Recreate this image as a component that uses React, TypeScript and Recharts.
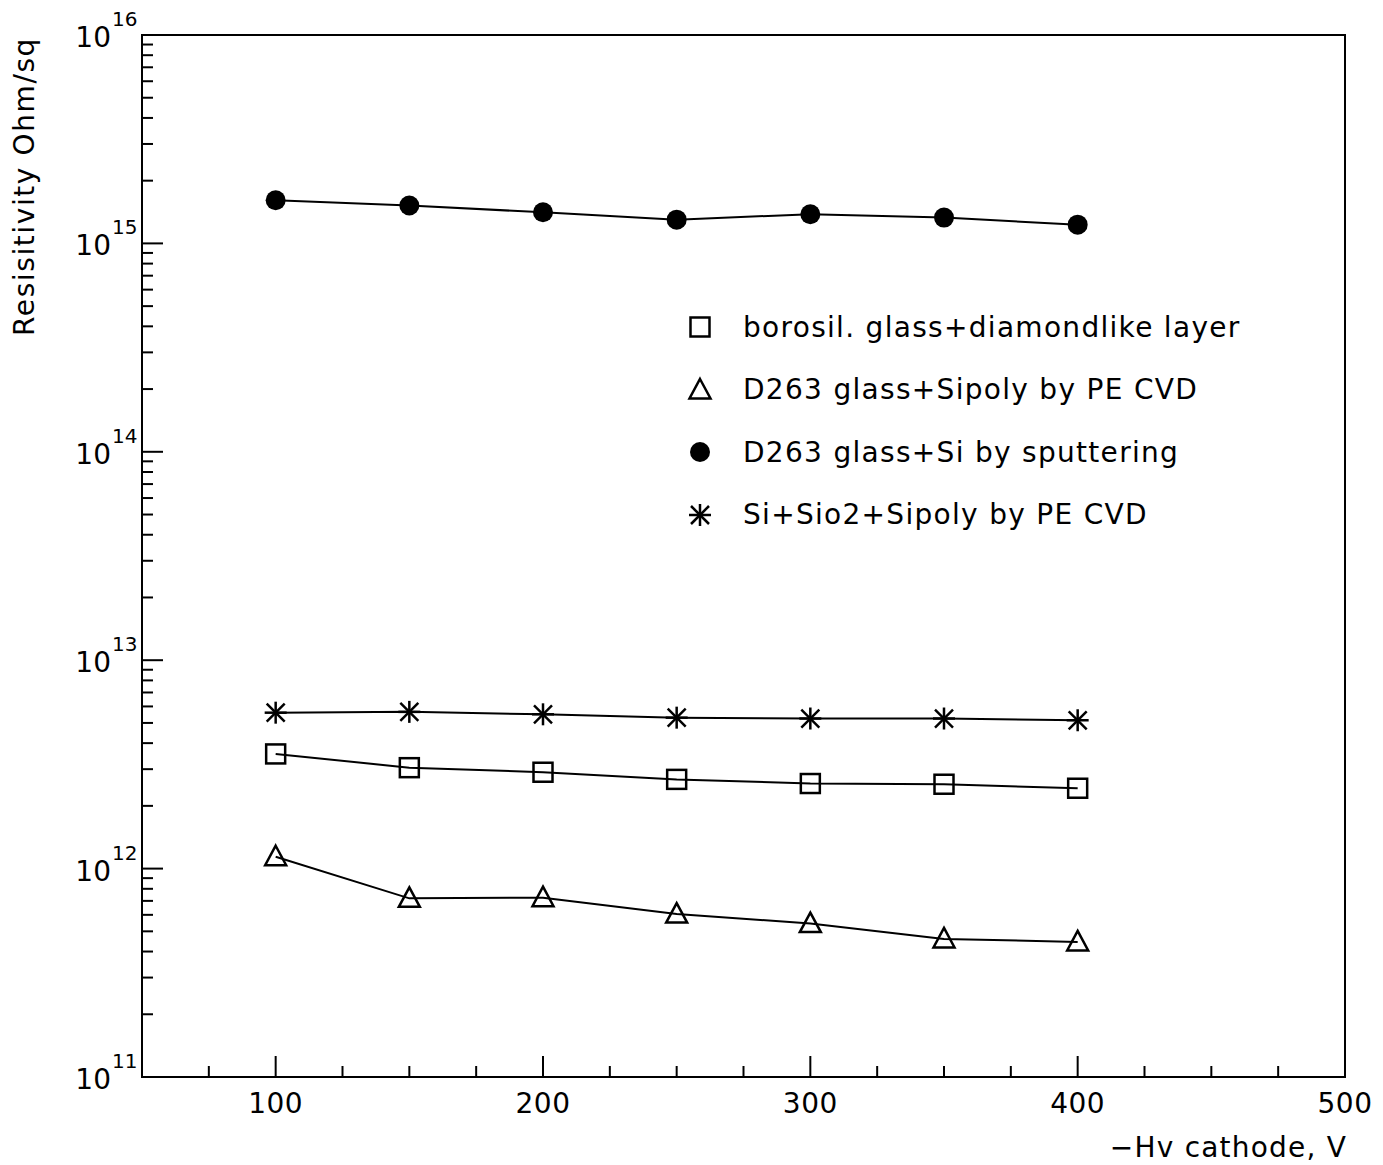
import { ScatterChart, Scatter, XAxis, YAxis, Legend, Label, ReferenceArea } from 'recharts';

const FONT = '"DejaVu Sans", sans-serif';

// -Hv cathode, V
const voltages = [100, 150, 200, 250, 300, 350, 400];

// resistivity, Ohm/sq
const borosilDiamond = [3.55e12, 3.05e12, 2.9e12, 2.68e12, 2.56e12, 2.54e12, 2.43e12];
const d263Sipoly = [1.14e12, 7.2e11, 7.25e11, 6.05e11, 5.45e11, 4.6e11, 4.45e11];
const d263Sputter = [1.61e15, 1.52e15, 1.41e15, 1.3e15, 1.38e15, 1.33e15, 1.23e15];
const siSio2Sipoly = [5.6e12, 5.65e12, 5.5e12, 5.3e12, 5.25e12, 5.25e12, 5.15e12];

const seriesNames = [
  'borosil. glass+diamondlike layer',
  'D263 glass+Sipoly by PE CVD',
  'D263 glass+Si by sputtering',
  'Si+Sio2+Sipoly by PE CVD',
];
const markerKinds = ['square', 'triangle', 'circle', 'star'];
const seriesValues = [borosilDiamond, d263Sipoly, d263Sputter, siSio2Sipoly];

const xTicks = [75, 100, 125, 150, 175, 200, 225, 250, 275, 300, 325, 350, 375, 400, 425, 450, 475, 500];
const decades = [11, 12, 13, 14, 15];
const mantissas = [1, 2, 3, 4, 5, 6, 7, 8, 9];
const yTicks = [...decades.flatMap((d) => mantissas.map((m) => m * Math.pow(10, d))), 1e16];

const series = seriesNames.map((name, i) => ({
  name,
  kind: markerKinds[i],
  data: voltages.map((v, j) => ({ x: v, y: seriesValues[i][j] })),
}));

function Marker({ kind, cx, cy }: { kind: string; cx: number; cy: number }) {
  const s = { stroke: '#000', strokeWidth: 2.5, fill: 'none' };
  if (kind === 'square') return <rect x={cx - 9.5} y={cy - 9.5} width={19} height={19} {...s} />;
  if (kind === 'triangle')
    return <path d={`M${cx},${cy - 11} L${cx + 10.5},${cy + 8.5} L${cx - 10.5},${cy + 8.5} Z`} {...s} strokeLinejoin="miter" />;
  if (kind === 'circle') return <circle cx={cx} cy={cy} r={10} fill="#000" />;
  return (
    <g stroke="#000" strokeWidth={2.5}>
      <line x1={cx} y1={cy - 11} x2={cx} y2={cy + 11} />
      <line x1={cx - 11} y1={cy} x2={cx + 11} y2={cy} />
      <line x1={cx - 9} y1={cy - 9} x2={cx + 9} y2={cy + 9} />
      <line x1={cx - 9} y1={cy + 9} x2={cx + 9} y2={cy - 9} />
    </g>
  );
}

const XTick = ({ x, y, payload }: any) => {
  const major = payload.value % 100 === 0;
  return (
    <g>
      <line x1={x} y1={y} x2={x} y2={y - (major ? 21 : 11)} stroke="#000" strokeWidth={2} />
      {major && (
        <text x={x} y={y + 36} textAnchor="middle" fontFamily={FONT} fontSize={28} fill="#000" letterSpacing={0.5}>
          {payload.value}
        </text>
      )}
    </g>
  );
};

const YTick = ({ x, y, payload }: any) => {
  const exp = Math.log10(payload.value);
  const major = Math.abs(exp - Math.round(exp)) < 1e-6;
  return (
    <g>
      <line x1={x} y1={y} x2={x + (major ? 21 : 11)} y2={y} stroke="#000" strokeWidth={2} />
      {major && (
        <text x={x - 31} y={y + 12} textAnchor="end" fontFamily={FONT} fontSize={28} fill="#000">
          10
        </text>
      )}
      {major && (
        <text x={x - 30} y={y - 9} fontFamily={FONT} fontSize={20} fill="#000">
          {Math.round(exp)}
        </text>
      )}
    </g>
  );
};

const renderLegend = () => (
  <div style={{ fontFamily: FONT, fontSize: 28, color: '#000' }}>
    {series.map((s) => (
      <div key={s.name} style={{ display: 'flex', alignItems: 'center', height: 62.5 }}>
        <svg width={30} height={30} style={{ overflow: 'visible' }}>
          <Marker kind={s.kind} cx={15} cy={15} />
        </svg>
        <span style={{ marginLeft: 28, letterSpacing: 1.3 }}>{s.name}</span>
      </div>
    ))}
  </div>
);

export default function App() {
  return (
    <div style={{ position: 'absolute', left: 0, top: 0, width: 1383, height: 1165, background: '#fff' }}>
      <ScatterChart width={1383} height={1165} margin={{ top: 35, right: 38, bottom: 48, left: 42 }}>
        <XAxis
          type="number"
          dataKey="x"
          domain={[50, 500]}
          ticks={xTicks}
          interval={0}
          tickSize={0}
          tickMargin={0}
          tickLine={false}
          tick={<XTick />}
          axisLine={{ stroke: '#000', strokeWidth: 2 }}
          height={40}
          allowDataOverflow
        >
          <Label
            content={({ viewBox }: any) => (
              <text
                x={viewBox.x + viewBox.width + 2}
                y={viewBox.y + 80}
                textAnchor="end"
                fontFamily={FONT}
                fontSize={28}
                fill="#000"
                letterSpacing={1.2}
              >
                −Hv cathode, V
              </text>
            )}
          />
        </XAxis>
        <YAxis
          type="number"
          dataKey="y"
          scale="log"
          domain={[1e11, 1e16]}
          ticks={yTicks}
          interval={0}
          tickSize={0}
          tickMargin={0}
          tickLine={false}
          tick={<YTick />}
          axisLine={{ stroke: '#000', strokeWidth: 2 }}
          width={100}
          allowDataOverflow
        >
          <Label
            content={({ viewBox }: any) => {
              const lx = viewBox.x - 8;
              const ly = viewBox.y + 2;
              return (
                <text
                  x={lx}
                  y={ly}
                  transform={`rotate(-90, ${lx}, ${ly})`}
                  textAnchor="end"
                  fontFamily={FONT}
                  fontSize={28}
                  fill="#000"
                  letterSpacing={1.6}
                >
                  Resisitivity Ohm/sq
                </text>
              );
            }}
          />
        </YAxis>
        <ReferenceArea
          x1={50}
          x2={500}
          y1={1e11}
          y2={1e16}
          fill="none"
          stroke="#000"
          strokeWidth={2}
          fillOpacity={0}
          ifOverflow="visible"
        />
        {series.map((s) => (
          <Scatter
            key={s.name}
            name={s.name}
            data={s.data}
            line={{ stroke: '#000', strokeWidth: 2 }}
            lineType="joint"
            isAnimationActive={false}
            shape={(p: any) => <Marker kind={s.kind} cx={p.cx} cy={p.cy} />}
          />
        ))}
        <Legend
          layout="vertical"
          align="center"
          verticalAlign="middle"
          wrapperStyle={{ left: 685, top: 296, width: 660 }}
          content={renderLegend}
        />
      </ScatterChart>
    </div>
  );
}
